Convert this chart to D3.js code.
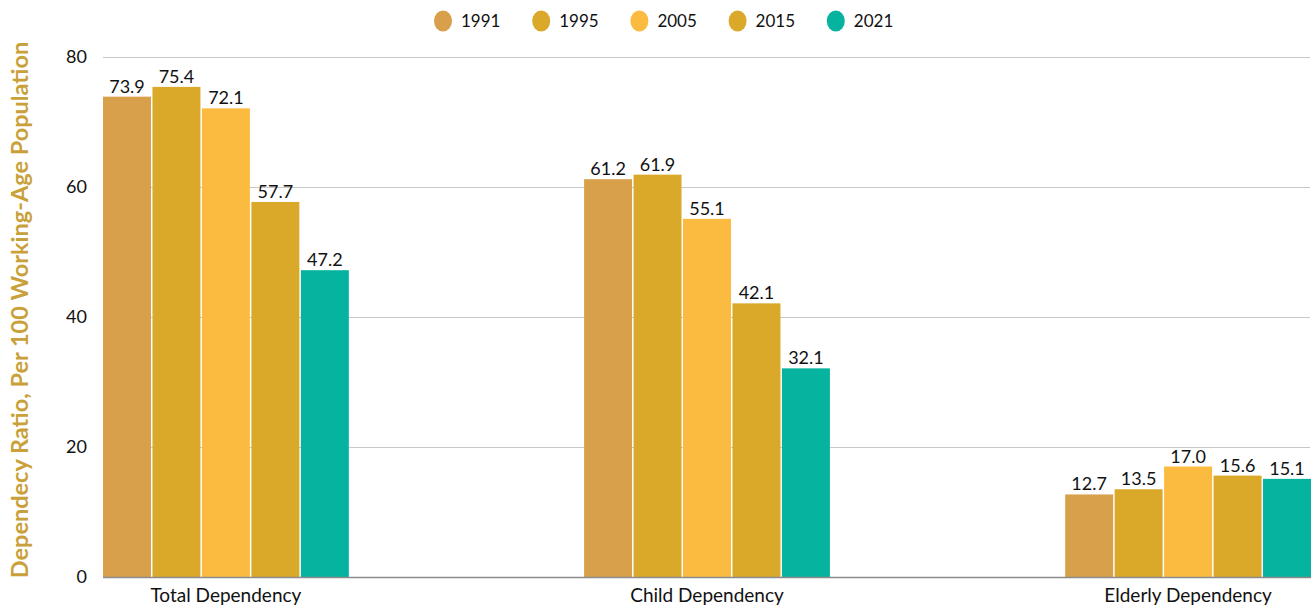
<!DOCTYPE html>
<html>
<head>
<meta charset="utf-8">
<script src="https://cdn.jsdelivr.net/npm/d3@7"></script>
<style>
  body { margin: 0; background: #fff; }
  svg text { font-family: Lato, "Open Sans", sans-serif; }
</style>
</head>
<body>
<div id="chart"></div>
<script>
// dependency ratio chart
var categories = ["Total Dependency", "Child Dependency", "Elderly Dependency"];
var years = ["1991", "1995", "2005", "2015", "2021"];
var colors = ["#D9A04C", "#DAA92A", "#FBBB40", "#DAA92A", "#06B39E"];
var values1991 = [73.9, 61.2, 12.7];
var values1995 = [75.4, 61.9, 13.5];
var values2005 = [72.1, 55.1, 17.0];
var values2015 = [57.7, 42.1, 15.6];
var values2021 = [47.2, 32.1, 15.1];
var yTicks = [0, 20, 40, 60, 80];

var series = [values1991, values1995, values2005, values2015, values2021];
var width = 1314, height = 611;
var mLeft = 103, mRight = 1311, mTop = 57, mBottom = 577;

var svg = d3.select("#chart").append("svg")
	.attr("width", width)
	.attr("height", height);

var x0 = d3.scaleBand().domain(categories).range([mLeft, mRight])
	.paddingInner(0.489).paddingOuter(0);
var x1 = d3.scaleBand().domain(years).range([0, x0.bandwidth()]).paddingInner(0.03);
var y = d3.scaleLinear().domain([0, 80]).range([mBottom, mTop]);

// grid
svg.append("g").selectAll("line").data(yTicks.filter(function(d){return d > 0;}))
	.enter().append("line")
	.attr("x1", mLeft).attr("x2", 1310)
	.attr("y1", function(d){return Math.round(y(d)) + 0.5;})
	.attr("y2", function(d){return Math.round(y(d)) + 0.5;})
	.attr("stroke", "#C8C8C8").attr("stroke-width", 1);

// y tick labels
svg.append("g").selectAll("text").data(yTicks)
	.enter().append("text")
	.attr("x", 87).attr("y", function(d){return y(d);})
	.attr("dy", "0.35em")
	.attr("text-anchor", "end")
	.attr("font-size", 18).attr("fill", "#111")
	.text(function(d){return d;});

// bars
var rows = [];
categories.forEach(function(c, i) {
	years.forEach(function(yr, j) {
		rows.push({cat: c, year: yr, v: series[j][i], col: colors[j]});
	});
});

var bars = svg.append("g");
bars.selectAll("rect").data(rows).enter().append("rect")
	.attr("x", function(d){return x0(d.cat) + x1(d.year);})
	.attr("y", function(d){return y(d.v);})
	.attr("width", x1.bandwidth())
	.attr("height", function(d){return mBottom - y(d.v);})
	.attr("fill", function(d){return d.col;});

bars.selectAll("text").data(rows).enter().append("text")
	.attr("x", function(d){return x0(d.cat) + x1(d.year) + x1.bandwidth()/2;})
	.attr("y", function(d){return y(d.v) - 4;})
	.attr("text-anchor", "middle")
	.attr("font-size", 18).attr("fill", "#111")
	.text(function(d){return d.v.toFixed(1);});

// baseline
svg.append("line")
	.attr("x1", mLeft).attr("x2", 1311)
	.attr("y1", mBottom + 0.5).attr("y2", mBottom + 0.5)
	.attr("stroke", "#8C8C8C").attr("stroke-width", 1.5);

// category labels
svg.append("g").selectAll("text").data(categories)
	.enter().append("text")
	.attr("x", function(d){return x0(d) + x0.bandwidth()/2;})
	.attr("y", 602)
	.attr("text-anchor", "middle")
	.attr("font-size", 19).attr("fill", "#111")
	.text(function(d){return d;});

// y axis title
svg.append("text")
	.attr("transform", "translate(28," + ((mTop + mBottom)/2 - 7) + ") rotate(-90)")
	.attr("text-anchor", "middle")
	.attr("font-size", 23.5).attr("font-weight", "bold")
	.attr("fill", "#C9A13A")
	.text("Dependecy Ratio, Per 100 Working-Age Population");

// legend
var legend = svg.append("g").selectAll("g").data(years)
	.enter().append("g")
	.attr("transform", function(d, i){return "translate(" + (443 + i*98.2) + ",21)";});
legend.append("ellipse").attr("rx", 9).attr("ry", 10.5)
	.attr("fill", function(d, i){return colors[i];});
legend.append("text").attr("x", 18).attr("dy", "0.35em")
	.attr("font-size", 17).attr("fill", "#111")
	.text(function(d){return d;});
</script>
</body>
</html>
